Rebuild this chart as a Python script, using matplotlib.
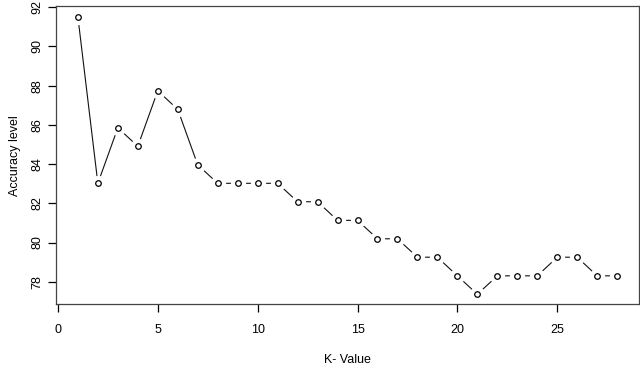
import matplotlib
matplotlib.use('Agg')
import matplotlib.pyplot as plt

plt.rcParams['font.family'] = ['Liberation Sans', 'DejaVu Sans']

# K values and accuracy (%)
k_values = list(range(1, 29))
accuracy = [91.51, 83.02, 85.85, 84.91, 87.74, 86.79, 83.96, 83.02, 83.02, 83.02,
            83.02, 82.08, 82.08, 81.13, 81.13, 80.19, 80.19, 79.25, 79.25, 78.30,
            77.36, 78.30, 78.30, 78.30, 79.25, 79.25, 78.30, 78.30]

x_ticks = [0, 5, 10, 15, 20, 25]
y_ticks = [78, 80, 82, 84, 86, 88, 90, 92]

fig = plt.figure(figsize=(6.4, 3.82), dpi=100)
ax = fig.add_axes([0.088, 0.203, 0.910, 0.781])

# line, then white discs to make the R type="b" gaps, then open circles
ax.plot(k_values, accuracy, color='#111111', lw=0.8, zorder=1)
ax.plot(k_values, accuracy, ls='none', marker='o', ms=10, mfc='white', mec='white', zorder=2)
ax.plot(k_values, accuracy, ls='none', marker='o', ms=4, mfc='white', mec='black', mew=0.9, zorder=3)

ax.set_xlim(-0.08, 29.08)
ax.set_ylim(76.84, 92.06)
ax.set_xticks(x_ticks)
ax.set_yticks(y_ticks)
ax.tick_params(direction='out', length=6, width=0.9, labelsize=9)
ax.tick_params(axis='x', pad=8)
ax.tick_params(axis='y', pad=3)
for lab in ax.get_yticklabels():
    lab.set_rotation(90)
    lab.set_va('center')

for s in ax.spines.values():
    s.set_color('#444444')
    s.set_linewidth(0.9)

ax.set_xlabel('K- Value', fontsize=9, labelpad=13)
ax.set_ylabel('Accuracy level', fontsize=9, labelpad=8)

fig.savefig('out.png', dpi=100)
